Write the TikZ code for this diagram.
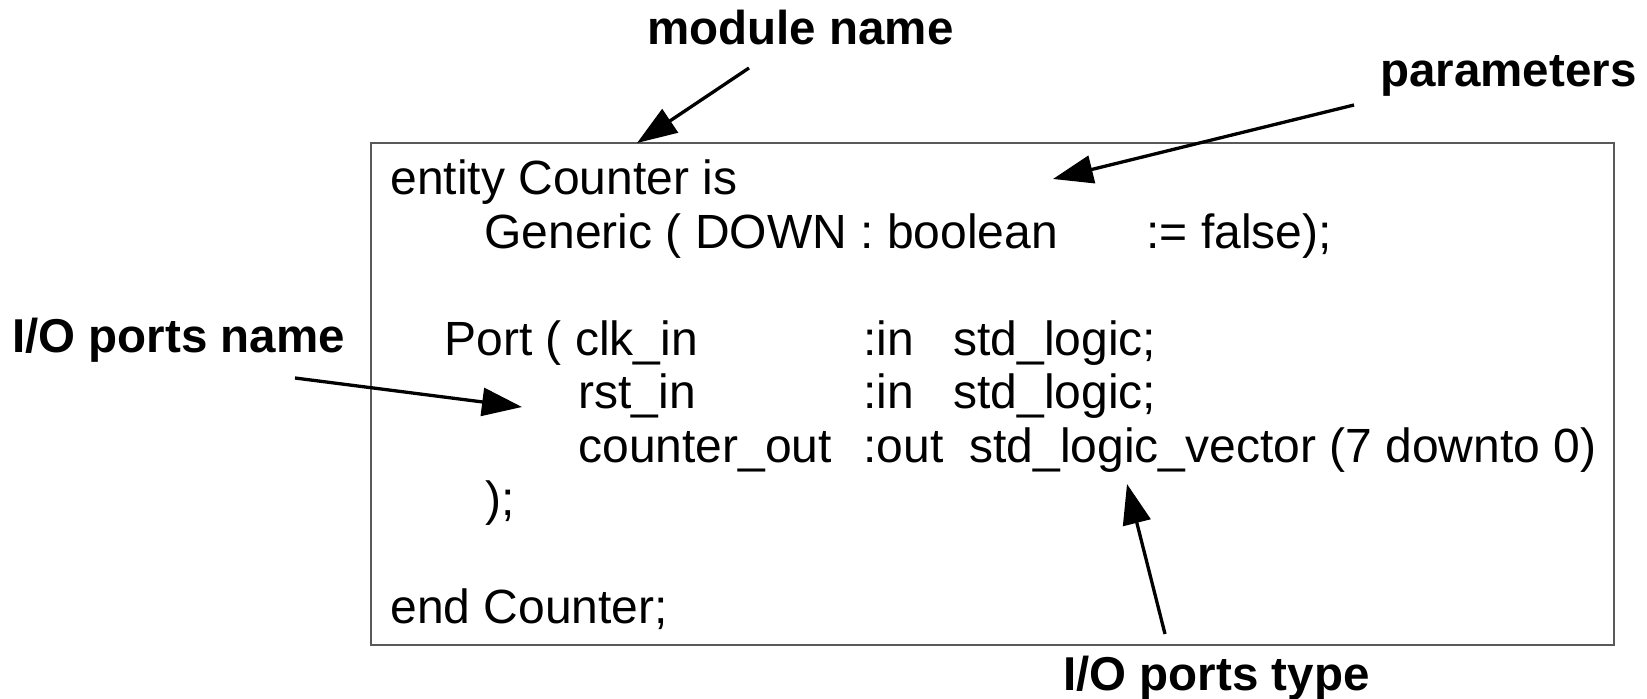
\documentclass[tikz,border=0pt]{standalone}
\usepackage{fontspec}
\setmainfont{Liberation Sans}
\usetikzlibrary{arrows.meta}

\begin{document}
\begin{tikzpicture}[
        % Define styles for consistency
        x=0.5pt, y=-0.5pt,
        codeline/.style={anchor=base west, inner sep=0pt, font=\fontsize{24pt}{28pt}\selectfont},
        callout/.style={anchor=base west, inner sep=0pt, font=\fontsize{23.75pt}{28pt}\selectfont\bfseries},
        frame/.style={draw=black!65, line width=0.6pt},
        pointer/.style={-{Triangle[length=20pt,width=14pt]}, line width=1.65pt}
    ]

        \useasboundingbox (0,0) rectangle (1647,699);

        % --- Coordinates ---
        % Code frame
        \coordinate (box_nw) at (371,143);
        \coordinate (box_se) at (1614,645);

        % Arrow tails
        \coordinate (name_from) at (749,68);
        \coordinate (param_from) at (1354,105);
        \coordinate (pname_from) at (295,378);
        \coordinate (ptype_from) at (1165,634);

        % Arrow tips
        \coordinate (name_to) at (637,143);
        \coordinate (param_to) at (1053,179);
        \coordinate (pname_to) at (522,407);
        \coordinate (ptype_to) at (1127,484);

        % --- Code frame ---
        \draw[frame] (box_nw) rectangle (box_se);

        % --- Code lines ---
        \node[codeline] (l_entity) at (390,195) {entity Counter is};
        \node[codeline] (l_generic) at (484,248.5) {Generic ( DOWN : boolean};
        \node[codeline] (l_default) at (1146,248.5) {:= false);};

        \node[codeline] (l_port) at (444,355.5) {Port ( clk\_in};
        \node[codeline] (l_clkdir) at (863,355.5) {:in};
        \node[codeline] (l_clktype) at (953,355.5) {std\_logic;};

        \node[codeline] (l_rst) at (578,409) {rst\_in};
        \node[codeline] (l_rstdir) at (863,409) {:in};
        \node[codeline] (l_rsttype) at (953,409) {std\_logic;};

        \node[codeline] (l_cnt) at (578,462.5) {counter\_out};
        \node[codeline] (l_cntdir) at (863,462.5) {:out};
        \node[codeline] (l_cnttype) at (969,462.5) {std\_logic\_vector (7 downto 0)};

        \node[codeline] (l_close) at (485,516) {);};
        \node[codeline] (l_end) at (390,623) {end Counter;};

        % --- Callouts ---
        \node[callout] (c_name) at (647,45) {module name};
        \node[callout] (c_param) at (1380,87) {parameters};
        \node[callout] (c_pname) at (12,353) {I/O ports name};
        \node[callout] (c_ptype) at (1063,690) {I/O ports type};

        % --- Arrows ---
        \draw[pointer] (name_from) -- (name_to);
        \draw[pointer] (param_from) -- (param_to);
        \draw[pointer] (pname_from) -- (pname_to);
        \draw[pointer] (ptype_from) -- (ptype_to);

    \end{tikzpicture}
\end{document}
